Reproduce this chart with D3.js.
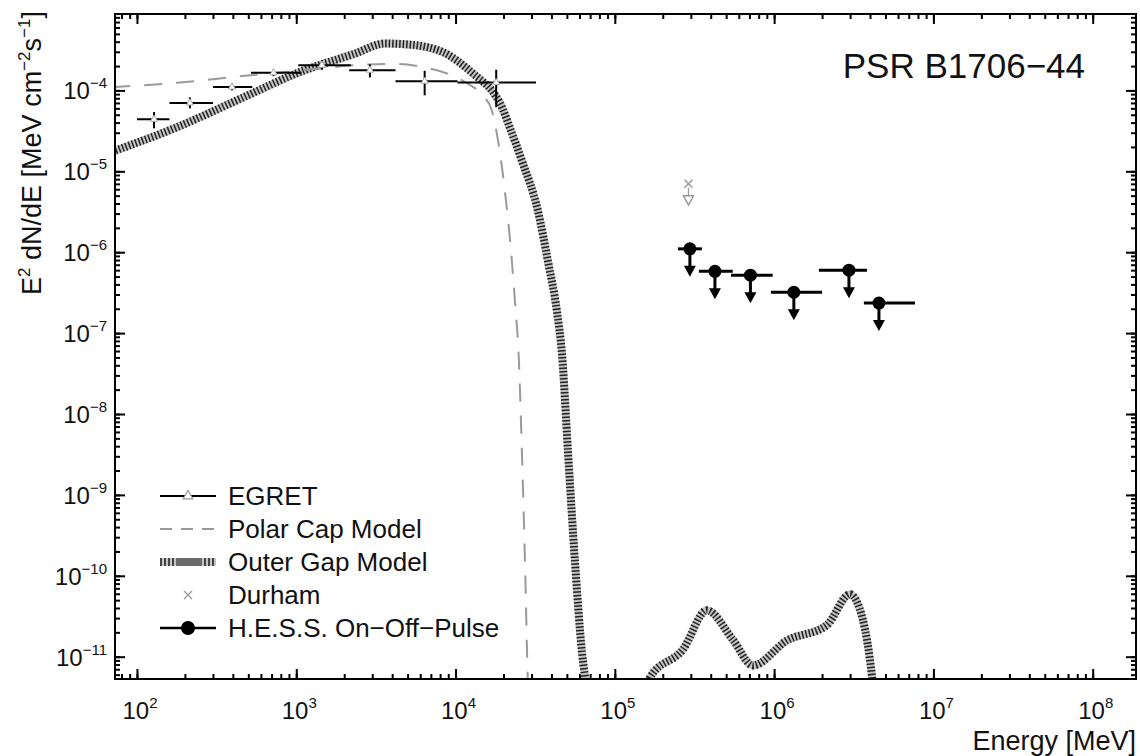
<!DOCTYPE html>
<html>
<head>
<meta charset="utf-8">
<script src="https://cdn.jsdelivr.net/npm/d3@7"></script>
<style>
  body { margin: 0; background: #fff; }
  svg text { font-family: "Liberation Sans", Arial, Helvetica, sans-serif; fill: #111; }
</style>
</head>
<body>
<div id="chart"></div>
<script>
// EGRET points: energy, bin edges, flux, flux error range
var egretE   = [128, 215, 395, 720, 1450, 2900, 6400, 18000];
var egretLo  = [100, 160, 300, 520, 1030, 2150, 4200, 10300];
var egretHi  = [160, 300, 530, 1080, 2200, 4200, 10300, 32000];
var egretF   = [4.4e-5, 7.0e-5, 1.1e-4, 1.65e-4, 2.05e-4, 1.78e-4, 1.3e-4, 1.25e-4];
var egretFlo = [3.4e-5, 6.0e-5, 1.0e-4, 1.5e-4, 1.8e-4, 1.45e-4, 8.7e-5, 6.2e-5];
var egretFhi = [5.4e-5, 8.2e-5, 1.22e-4, 1.8e-4, 2.35e-4, 2.1e-4, 1.75e-4, 1.8e-4];

// polar cap model (dashed)
var polarE = [70, 178, 497, 1393, 2335, 4325, 6170, 9000, 12000, 15000, 16900, 18700, 20400, 22300, 23600, 25000, 26100, 27300, 28500, 28800];
var polarF = [1.1e-4, 1.24e-4, 1.53e-4, 1.86e-4, 2.05e-4, 2.12e-4, 1.95e-4, 1.6e-4, 1.2e-4, 8.5e-5, 5.65e-5, 2.08e-5, 5.75e-6, 1.04e-6, 2.48e-7, 4.5e-8, 3.4e-9, 1.48e-10, 4.5e-12, 3e-12];

// outer gap model (hatched), main part
var gapE = [70, 178, 497, 1000, 2335, 3600, 5040, 8400, 13200, 17200, 19000, 22000, 26100, 32900, 38000, 43300, 46600, 50800, 56200, 62200, 66800];
var gapF = [1.75e-5, 3.5e-5, 8.7e-5, 1.62e-4, 2.85e-4, 3.8e-4, 3.7e-4, 2.95e-4, 1.55e-4, 9.5e-5, 7e-5, 3.4e-5, 1.35e-5, 3.25e-6, 7.8e-7, 1.86e-7, 5.5e-8, 3.4e-9, 1.48e-10, 1.13e-11, 4e-12];

// outer gap model, inverse compton bump
var bumpE = [1.6e5, 1.66e5, 2.68e5, 3.78e5, 5.5e5, 7.36e5, 1.2e6, 2.14e6, 2.99e6, 3.6e6, 4.11e6, 4.2e6];
var bumpF = [4e-12, 5.5e-12, 1.23e-11, 3.74e-11, 1.63e-11, 7.8e-12, 1.58e-11, 2.45e-11, 5.9e-11, 2.9e-11, 5.9e-12, 4e-12];

// H.E.S.S. upper limits
var hessE  = [2.96e5, 4.25e5, 7.1e5, 1.33e6, 2.95e6, 4.55e6];
var hessLo = [2.49e5, 3.37e5, 5.36e5, 9.55e5, 1.91e6, 3.66e6];
var hessHi = [3.52e5, 5.5e5, 9.8e5, 2.0e6, 3.83e6, 7.66e6];
var hessF  = [1.1e-6, 5.8e-7, 5.2e-7, 3.2e-7, 6.0e-7, 2.35e-7];

// Durham upper limit
var durhamE = [2.9e5];
var durhamF = [7.0e-6];

var xDecades = [2, 3, 4, 5, 6, 7, 8];
var yDecades = [-11, -10, -9, -8, -7, -6, -5, -4];
var legendLabels = ["EGRET", "Polar Cap Model", "Outer Gap Model", "Durham", "H.E.S.S. On\u2212Off\u2212Pulse"];

var width = 1140, height = 756;
var pL = 115, pR = 1136, pT = 14, pB = 679;
var xDom = [72.8, 1.87e8], yDom = [5.3e-12, 8.8e-4];

var x = d3.scaleLog().domain(xDom).range([pL, pR]);
var y = d3.scaleLog().domain(yDom).range([pB, pT]);

var svg = d3.select("#chart").append("svg")
    .attr("width", width)
    .attr("height", height);

svg.append("defs").append("clipPath").attr("id", "clip")
  .append("rect")
    .attr("x", pL).attr("y", pT)
    .attr("width", pR - pL).attr("height", pB - pT);

// minor tick values
function minors(decs) {
  var out = [];
  decs.forEach(function(d) {
    for (var k = 1; k < 10; k++) out.push(k * Math.pow(10, d));
  });
  return out;
}
var xMinor = minors([1, 2, 3, 4, 5, 6, 7, 8]).filter(function(v){ return v > xDom[0] && v < xDom[1]; });
var yMinor = minors([-12, -11, -10, -9, -8, -7, -6, -5, -4, -3]).filter(function(v){ return v > yDom[0] && v < yDom[1]; });
var xMajorV = xDecades.map(function(d){ return Math.pow(10, d); });
var yMajorV = yDecades.map(function(d){ return Math.pow(10, d); });

function tickAxis(axisFn, scale, vals, size, tx, ty) {
  var g = svg.append("g")
    .attr("transform", "translate(" + tx + "," + ty + ")")
    .call(axisFn(scale).tickValues(vals).tickSize(size).tickFormat(""));
  g.select(".domain").remove();
  g.selectAll("line").attr("stroke", "#000").attr("stroke-width", 2);
}
// ticks point inward on all four sides
tickAxis(d3.axisBottom, x, xMinor, -5, 0, pB);
tickAxis(d3.axisBottom, x, xMajorV, -10, 0, pB);
tickAxis(d3.axisTop, x, xMinor, -5, 0, pT);
tickAxis(d3.axisTop, x, xMajorV, -10, 0, pT);
tickAxis(d3.axisLeft, y, yMinor, -5, pL, 0);
tickAxis(d3.axisLeft, y, yMajorV, -10, pL, 0);
tickAxis(d3.axisRight, y, yMinor, -5, pR, 0);
tickAxis(d3.axisRight, y, yMajorV, -10, pR, 0);

// tick labels
svg.append("g").selectAll("text")
  .data(xDecades)
  .enter().append("text")
    .attr("x", function(d){ return x(Math.pow(10, d)) + 3; })
    .attr("y", 719)
    .attr("text-anchor", "middle")
    .attr("font-size", 24)
    .each(function(d) {
      var t = d3.select(this);
      t.append("tspan").text("10");
      t.append("tspan").attr("font-size", 15).attr("dy", -11).text(d);
    });

svg.append("g").selectAll("text")
  .data(yDecades)
  .enter().append("text")
    .attr("x", 107)
    .attr("y", function(d){ return y(Math.pow(10, d)) + 9; })
    .attr("text-anchor", "end")
    .attr("font-size", 24)
    .each(function(d) {
      var t = d3.select(this);
      t.append("tspan").text("10");
      t.append("tspan").attr("font-size", 15).attr("dy", -11).text("\u2212" + (-d));
    });

// axis titles
svg.append("text")
  .attr("x", pR)
  .attr("y", 750)
  .attr("text-anchor", "end")
  .attr("font-size", 27)
  .text("Energy [MeV]");

var yl = svg.append("text")
  .attr("transform", "translate(41,153) rotate(-90)")
  .attr("text-anchor", "middle")
  .attr("font-size", 27);
yl.append("tspan").text("E");
yl.append("tspan").attr("font-size", 17).attr("dy", -11).text("2");
yl.append("tspan").attr("dy", 11).text(" dN/dE [MeV cm");
yl.append("tspan").attr("font-size", 17).attr("dy", -11).text("\u22122");
yl.append("tspan").attr("dy", 11).text("s");
yl.append("tspan").attr("font-size", 17).attr("dy", -11).text("\u22121");
yl.append("tspan").attr("dy", 11).text("]");

svg.append("text")
  .attr("x", 1085)
  .attr("y", 78)
  .attr("text-anchor", "end")
  .attr("font-size", 35)
  .text("PSR B1706\u221244");

var plot = svg.append("g").attr("clip-path", "url(#clip)");

var line = d3.line()
  .x(function(d){ return x(d[0]); })
  .y(function(d){ return y(d[1]); })
  .curve(d3.curveMonotoneX);

function zip(a, b) { return a.map(function(v, i){ return [v, b[i]]; }); }

// outer gap model: light underlay with dark stripes
function hatched(g, d) {
  g.append("path").attr("d", d).attr("fill", "none")
    .attr("stroke", "#c4c4c4").attr("stroke-width", 8);
  g.append("path").attr("d", d).attr("fill", "none")
    .attr("stroke", "#222").attr("stroke-width", 8)
    .attr("stroke-dasharray", "1.5,2");
}
hatched(plot, line(zip(gapE, gapF)));
hatched(plot, line(zip(bumpE, bumpF)));

// polar cap model
plot.append("path")
  .attr("d", line(zip(polarE, polarF)))
  .attr("fill", "none")
  .attr("stroke", "#9a9a9a")
  .attr("stroke-width", 2)
  .attr("stroke-dasharray", "18,14");

// EGRET
var eg = plot.append("g").selectAll("g")
  .data(egretE.map(function(e, i){ return i; }))
  .enter().append("g");
eg.append("line")
  .attr("x1", function(i){ return x(egretLo[i]); })
  .attr("x2", function(i){ return x(egretHi[i]); })
  .attr("y1", function(i){ return y(egretF[i]); })
  .attr("y2", function(i){ return y(egretF[i]); })
  .attr("stroke", "#000").attr("stroke-width", 2);
eg.append("line")
  .attr("x1", function(i){ return x(egretE[i]); })
  .attr("x2", function(i){ return x(egretE[i]); })
  .attr("y1", function(i){ return y(egretFlo[i]); })
  .attr("y2", function(i){ return y(egretFhi[i]); })
  .attr("stroke", "#000").attr("stroke-width", 2);
eg.append("path")
  .attr("d", d3.symbol(d3.symbolTriangle, 22))
  .attr("transform", function(i){ return "translate(" + x(egretE[i]) + "," + y(egretF[i]) + ")"; })
  .attr("fill", "#fff").attr("stroke", "#aaa").attr("stroke-width", 1);

// Durham upper limit
var du = plot.append("g").selectAll("g")
  .data(durhamE.map(function(e, i){ return i; }))
  .enter().append("g")
    .attr("transform", function(i){ return "translate(" + x(durhamE[i]) + "," + y(durhamF[i]) + ")"; });
du.append("path").attr("d", "M-4,-4L4,4M-4,4L4,-4").attr("stroke", "#999").attr("stroke-width", 1.5);
du.append("line").attr("x1", 0).attr("x2", 0).attr("y1", 4).attr("y2", 12).attr("stroke", "#999").attr("stroke-width", 1.2);
du.append("path").attr("d", "M-5,12L5,12L0,21Z").attr("fill", "#fff").attr("stroke", "#999").attr("stroke-width", 1.5);

// H.E.S.S. upper limits
var hs = plot.append("g").selectAll("g")
  .data(hessE.map(function(e, i){ return i; }))
  .enter().append("g");
hs.append("line")
  .attr("x1", function(i){ return x(hessLo[i]); })
  .attr("x2", function(i){ return x(hessHi[i]); })
  .attr("y1", function(i){ return y(hessF[i]); })
  .attr("y2", function(i){ return y(hessF[i]); })
  .attr("stroke", "#000").attr("stroke-width", 3);
hs.append("line")
  .attr("x1", function(i){ return x(hessE[i]); })
  .attr("x2", function(i){ return x(hessE[i]); })
  .attr("y1", function(i){ return y(hessF[i]); })
  .attr("y2", function(i){ return y(hessF[i]) + 20; })
  .attr("stroke", "#000").attr("stroke-width", 3);
hs.append("path")
  .attr("d", function(i){
    var cx = x(hessE[i]), cy = y(hessF[i]);
    return "M" + (cx - 6) + "," + (cy + 17) + "L" + (cx + 6) + "," + (cy + 17) + "L" + cx + "," + (cy + 28) + "Z";
  })
  .attr("fill", "#000");
hs.append("circle")
  .attr("cx", function(i){ return x(hessE[i]); })
  .attr("cy", function(i){ return y(hessF[i]); })
  .attr("r", 6.5)
  .attr("fill", "#000");

// frame
svg.append("rect")
  .attr("x", pL).attr("y", pT)
  .attr("width", pR - pL).attr("height", pB - pT)
  .attr("fill", "none").attr("stroke", "#000").attr("stroke-width", 2);

// legend
var lx0 = 160, lx1 = 216, ltx = 228;
var rowY = d3.scaleLinear().domain([0, 4]).range([496, 628]);
var leg = svg.append("g");
leg.selectAll("text")
  .data(legendLabels)
  .enter().append("text")
    .attr("x", ltx)
    .attr("y", function(d, i){ return rowY(i) + 9; })
    .attr("font-size", 26)
    .text(function(d){ return d; });

// EGRET sample
leg.append("line").attr("x1", lx0).attr("x2", lx1).attr("y1", rowY(0)).attr("y2", rowY(0))
  .attr("stroke", "#000").attr("stroke-width", 2);
leg.append("path").attr("d", d3.symbol(d3.symbolTriangle, 40))
  .attr("transform", "translate(" + ((lx0 + lx1) / 2) + "," + rowY(0) + ")")
  .attr("fill", "#fff").attr("stroke", "#999").attr("stroke-width", 1.2);
// polar cap sample
leg.append("line").attr("x1", lx0).attr("x2", lx1).attr("y1", rowY(1)).attr("y2", rowY(1))
  .attr("stroke", "#999").attr("stroke-width", 2).attr("stroke-dasharray", "12,9");
// outer gap sample
leg.append("line").attr("x1", lx0).attr("x2", lx1).attr("y1", rowY(2)).attr("y2", rowY(2))
  .attr("stroke", "#c4c4c4").attr("stroke-width", 8);
leg.append("line").attr("x1", lx0).attr("x2", lx0 + 14).attr("y1", rowY(2)).attr("y2", rowY(2))
  .attr("stroke", "#444").attr("stroke-width", 8).attr("stroke-dasharray", "2,2");
leg.append("line").attr("x1", lx0 + 16).attr("x2", lx1 - 14).attr("y1", rowY(2)).attr("y2", rowY(2))
  .attr("stroke", "#6a6a6a").attr("stroke-width", 8);
leg.append("line").attr("x1", lx1 - 12).attr("x2", lx1).attr("y1", rowY(2)).attr("y2", rowY(2))
  .attr("stroke", "#444").attr("stroke-width", 8).attr("stroke-dasharray", "2,2");
// Durham sample
leg.append("path")
  .attr("d", "M-4,-4L4,4M-4,4L4,-4")
  .attr("transform", "translate(" + ((lx0 + lx1) / 2) + "," + rowY(3) + ")")
  .attr("stroke", "#999").attr("stroke-width", 1.3);
// HESS sample
leg.append("line").attr("x1", lx0).attr("x2", lx1).attr("y1", rowY(4)).attr("y2", rowY(4))
  .attr("stroke", "#000").attr("stroke-width", 2.5);
leg.append("circle").attr("cx", (lx0 + lx1) / 2).attr("cy", rowY(4)).attr("r", 7).attr("fill", "#000");
</script>
</body>
</html>
